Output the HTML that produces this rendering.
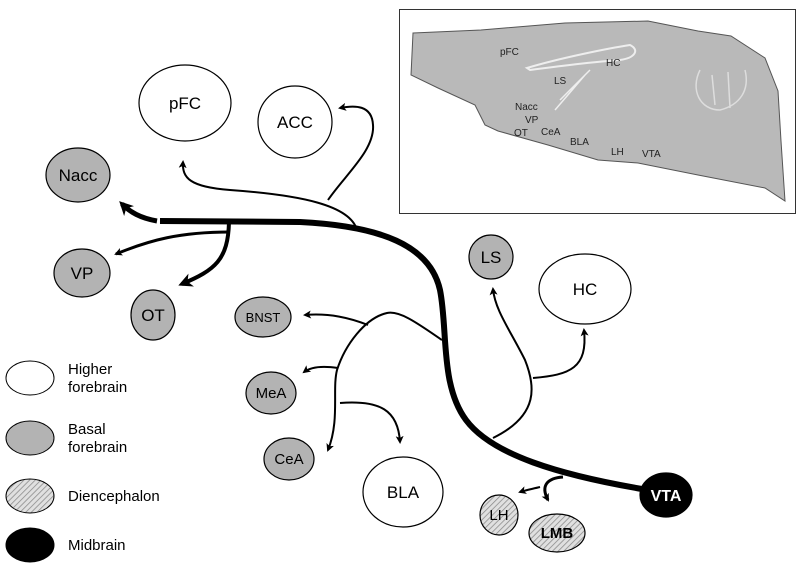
<!DOCTYPE html>
<html><head><meta charset="utf-8"><style>
html,body{margin:0;padding:0;background:#fff;}
svg{display:block;font-family:"Liberation Sans",sans-serif;}
</style></head><body>
<svg width="800" height="569" viewBox="0 0 800 569">
<defs>
<pattern id="hatch" width="4" height="4" patternUnits="userSpaceOnUse" patternTransform="rotate(45)">
<rect width="4" height="4" fill="#e0e0e0"/><line x1="0" y1="0" x2="0" y2="4" stroke="#888" stroke-width="1.5"/>
</pattern>
<marker id="ah" markerWidth="8" markerHeight="8" refX="6" refY="4" orient="auto" markerUnits="userSpaceOnUse"><path d="M0,0 L8,4 L0,8 L2,4 Z" fill="#000"/></marker>
<marker id="ahb" markerWidth="14" markerHeight="14" refX="10" refY="7" orient="auto" markerUnits="userSpaceOnUse"><path d="M0,0 L14,7 L0,14 L4,7 Z" fill="#000"/></marker>
</defs>

<g>
<rect x="399.5" y="9.5" width="396" height="204" fill="#fff" stroke="#333" stroke-width="1"/>
<polygon points="413,33 481,30 565,23 648,21 698,31 731,36 765,58 778,91 781,141 785,201 765,188 698,175 638,163 598,160 548,145 498,131 485,125 475,105 438,88 411,75" fill="#b9b9b9" stroke="#555" stroke-width="1"/>
<path d="M527,68 C560,58 610,48 630,45 C640,50 635,58 620,60 C590,62 560,66 530,70Z" fill="none" stroke="#eee" stroke-width="2"/>
<path d="M560,100 L590,70 M555,110 L585,75" stroke="#eee" stroke-width="1.5"/>
<path d="M700,70 C690,90 700,110 720,110 C740,105 750,90 745,70 M712,75 L715,105 M728,72 L730,108" fill="none" stroke="#ddd" stroke-width="1.5"/>
<g font-size="10" fill="#222">
<text x="500" y="55">pFC</text><text x="606" y="66">HC</text><text x="554" y="84">LS</text>
<text x="515" y="110">Nacc</text><text x="525" y="123">VP</text><text x="514" y="136">OT</text>
<text x="541" y="135">CeA</text><text x="570" y="145">BLA</text><text x="611" y="155">LH</text><text x="642" y="157">VTA</text>
</g>
</g>

<g fill="none" stroke="#000">
<path d="M642,489 C560,475 492,455 466,420 C440,385 448,330 440,290 C430,245 380,226 300,222 L160,221" stroke-width="6"/>
<path d="M157,221 C140,218 130,212 122,204" stroke-width="5" marker-end="url(#ahb)"/>
<path d="M357,230 C350,205 300,195 230,190 C190,187 182,178 183,162" stroke-width="2" marker-end="url(#ah)"/>
<path d="M328,200 C345,175 375,150 373,125 C372,105 355,105 340,108" stroke-width="2" marker-end="url(#ah)"/>
<path d="M230,232 C180,232 150,240 116,254" stroke-width="3" marker-end="url(#ah)"/>
<path d="M229,222 C228,260 215,270 182,284" stroke-width="4" marker-end="url(#ahb)"/>
<path d="M442,340 C420,325 400,310 387,313 C365,318 345,345 337,370 C332,390 340,420 328,450" stroke-width="2" marker-end="url(#ah)"/>
<path d="M368,325 C350,318 330,313 305,315" stroke-width="2" marker-end="url(#ah)"/>
<path d="M338,368 C325,366 312,366 304,372" stroke-width="2" marker-end="url(#ah)"/>
<path d="M340,403 C380,400 398,410 400,442" stroke-width="2" marker-end="url(#ah)"/>
<path d="M493,438 C540,415 535,385 525,360 C510,330 495,310 493,289" stroke-width="2" marker-end="url(#ah)"/>
<path d="M533,378 C570,375 588,368 584,330" stroke-width="2" marker-end="url(#ah)"/>
<path d="M563,477 C548,478 540,485 548,500" stroke-width="3" marker-end="url(#ah)"/>
<path d="M540,487 C532,489 526,490 520,492" stroke-width="2" marker-end="url(#ah)"/>
</g>

<g stroke="#000" stroke-width="1.2" font-size="17" text-anchor="middle">
<g><ellipse cx="185" cy="103" rx="46" ry="38" fill="#fff"/><text x="185" y="109" stroke="none">pFC</text></g>
<g><ellipse cx="295" cy="122" rx="37" ry="36" fill="#fff"/><text x="295" y="128" stroke="none">ACC</text></g>
<g><ellipse cx="78" cy="175" rx="32" ry="27" fill="#b3b3b3"/><text x="78" y="181" stroke="none">Nacc</text></g>
<g><ellipse cx="82" cy="273" rx="28" ry="24" fill="#b3b3b3"/><text x="82" y="279" stroke="none">VP</text></g>
<g><ellipse cx="153" cy="315" rx="22" ry="25" fill="#b3b3b3"/><text x="153" y="321" stroke="none">OT</text></g>
<g><ellipse cx="263" cy="317" rx="28" ry="20" fill="#b3b3b3"/><text x="263" y="322" stroke="none" font-size="13">BNST</text></g>
<g><ellipse cx="271" cy="393" rx="25" ry="21" fill="#b3b3b3"/><text x="271" y="398" stroke="none" font-size="15">MeA</text></g>
<g><ellipse cx="289" cy="459" rx="25" ry="21" fill="#b3b3b3"/><text x="289" y="464" stroke="none" font-size="15">CeA</text></g>
<g><ellipse cx="403" cy="492" rx="40" ry="35" fill="#fff"/><text x="403" y="498" stroke="none">BLA</text></g>
<g><ellipse cx="491" cy="257" rx="22" ry="22" fill="#b3b3b3"/><text x="491" y="263" stroke="none">LS</text></g>
<g><ellipse cx="585" cy="289" rx="46" ry="35" fill="#fff"/><text x="585" y="295" stroke="none">HC</text></g>
<g><ellipse cx="499" cy="515" rx="19" ry="20" fill="url(#hatch)"/><text x="499" y="520" stroke="none" font-size="15">LH</text></g>
<g><ellipse cx="557" cy="533" rx="28" ry="19" fill="url(#hatch)"/><text x="557" y="538" stroke="none" font-size="15" font-weight="bold">LMB</text></g>
<g><ellipse cx="666" cy="495" rx="26" ry="22" fill="#000"/><text x="666" y="501" stroke="none" fill="#fff" font-size="16" font-weight="bold">VTA</text></g>
</g>

<g font-size="15">
<g><ellipse cx="30" cy="378" rx="24" ry="17" fill="#fff" stroke="#000"/><text x="68" y="374">Higher</text><text x="68" y="392">forebrain</text></g>
<g><ellipse cx="30" cy="438" rx="24" ry="17" fill="#b3b3b3" stroke="#000"/><text x="68" y="434">Basal</text><text x="68" y="452">forebrain</text></g>
<g><ellipse cx="30" cy="496" rx="24" ry="17" fill="url(#hatch)" stroke="#000"/><text x="68" y="501">Diencephalon</text></g>
<g><ellipse cx="30" cy="545" rx="24" ry="17" fill="#000" stroke="#000"/><text x="68" y="550">Midbrain</text></g>
</g>
</svg>
</body></html>
